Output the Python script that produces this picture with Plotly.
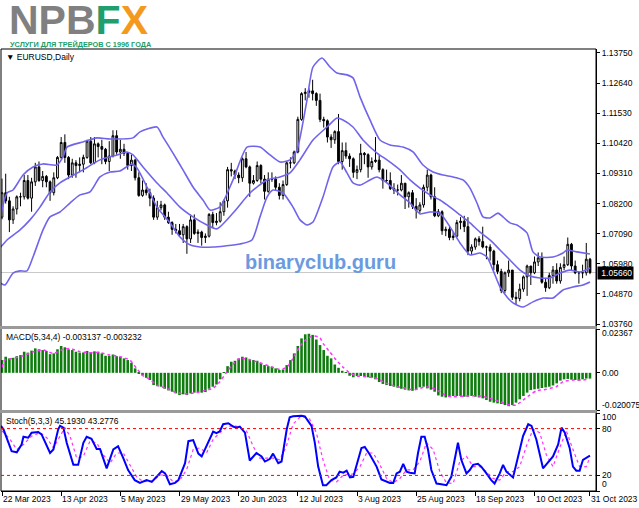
import plotly.graph_objects as go

# ---------------- data ----------------
tick_bars = [0, 16, 32, 48, 64, 80, 96, 112, 128, 144, 159]
tick_dates = ['22 Mar 2023', '13 Apr 2023', '5 May 2023', '29 May 2023', '20 Jun 2023',
              '12 Jul 2023', '3 Aug 2023', '25 Aug 2023', '18 Sep 2023', '10 Oct 2023', '31 Oct 2023']

price_ticks = [1.13750, 1.12640, 1.11530, 1.10420, 1.09310, 1.08200, 1.07090, 1.05980, 1.04870, 1.03760]
last_price = 1.05660

opens = [1.0770,1.0860,1.0830,1.0760,1.0800,1.0845,1.0845,1.0905,1.0840,1.0900,
         1.0955,1.0905,1.0920,1.0900,1.0860,1.0915,1.0990,1.1045,1.0990,1.0925,
         1.0970,1.0960,1.0965,1.0990,1.1050,1.0970,1.1040,1.1030,1.1020,1.0975,
         1.0995,1.1070,1.1010,1.1020,1.1005,1.0960,1.0980,1.0915,1.0850,1.0870,
         1.0860,1.0840,1.0770,1.0805,1.0815,1.0770,1.0750,1.0725,1.0720,1.0705,
         1.0735,1.0690,1.0760,1.0710,1.0715,1.0695,1.0700,1.0780,1.0750,1.0755,
         1.0790,1.0830,1.0945,1.0940,1.0925,1.0915,1.0985,1.0955,1.0895,1.0905,
         1.0960,1.0910,1.0865,1.0910,1.0910,1.0880,1.0850,1.0890,1.0970,1.0970,
         1.1010,1.1130,1.1225,1.1230,1.1235,1.1225,1.1200,1.1130,1.1125,1.1065,
         1.1055,1.1085,1.0975,1.1015,1.0995,1.0985,1.0935,1.0945,1.1005,1.1000,
         1.0955,1.0975,1.0980,1.0945,1.0905,1.0905,1.0875,1.0870,1.0870,1.0895,
         1.0845,1.0860,1.0810,1.0795,1.0815,1.0880,1.0925,1.0845,1.0775,1.0790,
         1.0720,1.0725,1.0695,1.0700,1.0750,1.0755,1.0735,1.0645,1.0660,1.0690,
         1.0680,1.0660,1.0660,1.0645,1.0595,1.0570,1.0500,1.0565,1.0575,1.0475,
         1.0470,1.0505,1.0550,1.0590,1.0565,1.0605,1.0620,1.0530,1.0510,1.0555,
         1.0575,1.0535,1.0585,1.0595,1.0670,1.0590,1.0565,1.0565,1.0565,1.0615]
highs = [1.0912,1.0930,1.0845,1.0810,1.0850,1.0860,1.0925,1.0925,1.0915,1.0970,
         1.0975,1.0940,1.0925,1.0905,1.0935,1.0995,1.1065,1.1075,1.0995,1.0985,
         1.0980,1.0990,1.1000,1.1055,1.1065,1.1065,1.1045,1.1055,1.1025,1.1050,
         1.1090,1.1090,1.1055,1.1040,1.1010,1.1000,1.0985,1.0935,1.0905,1.0895,
         1.0875,1.0850,1.0830,1.0830,1.0820,1.0790,1.0755,1.0745,1.0745,1.0745,
         1.0740,1.0780,1.0780,1.0725,1.0720,1.0710,1.0785,1.0790,1.0785,1.0825,
         1.0835,1.0955,1.0970,1.0945,1.0935,1.0990,1.1010,1.0960,1.0925,1.0975,
         1.0965,1.0925,1.0935,1.0935,1.0920,1.0895,1.0905,1.0975,1.0990,1.1015,
         1.1140,1.1230,1.1245,1.1245,1.1276,1.1230,1.1225,1.1140,1.1130,1.1075,
         1.1090,1.1150,1.1045,1.1045,1.1005,1.0990,1.0960,1.1040,1.1010,1.1005,
         1.0990,1.1065,1.1000,1.0950,1.0945,1.0935,1.0895,1.0890,1.0925,1.0895,
         1.0865,1.0870,1.0840,1.0825,1.0890,1.0945,1.0930,1.0880,1.0800,1.0795,
         1.0735,1.0735,1.0715,1.0760,1.0770,1.0775,1.0770,1.0670,1.0695,1.0700,
         1.0735,1.0665,1.0670,1.0650,1.0610,1.0580,1.0570,1.0610,1.0575,1.0495,
         1.0525,1.0555,1.0595,1.0590,1.0625,1.0640,1.0640,1.0545,1.0565,1.0590,
         1.0600,1.0600,1.0625,1.0695,1.0675,1.0610,1.0570,1.0595,1.0675,1.0620]
lows = [1.0762,1.0820,1.0715,1.0745,1.0780,1.0810,1.0835,1.0835,1.0790,1.0885,
        1.0900,1.0880,1.0880,1.0830,1.0850,1.0910,1.0985,1.0970,1.0910,1.0915,
        1.0915,1.0935,1.0935,1.0985,1.0965,1.0965,1.0990,1.0965,1.0965,1.0940,
        1.0990,1.1000,1.0985,1.0995,1.0945,1.0940,1.0905,1.0845,1.0845,1.0850,
        1.0810,1.0760,1.0760,1.0795,1.0760,1.0745,1.0705,1.0710,1.0700,1.0675,
        1.0635,1.0675,1.0705,1.0675,1.0665,1.0675,1.0695,1.0730,1.0740,1.0750,
        1.0775,1.0805,1.0920,1.0910,1.0895,1.0900,1.0950,1.0845,1.0890,1.0900,
        1.0895,1.0835,1.0860,1.0900,1.0870,1.0835,1.0835,1.0885,1.0950,1.0965,
        1.1005,1.1125,1.1200,1.1210,1.1200,1.1180,1.1120,1.1100,1.1045,1.1025,
        1.1040,1.0965,1.0945,1.0985,1.0955,1.0915,1.0910,1.0935,1.0965,1.0915,
        1.0945,1.0970,1.0935,1.0875,1.0895,1.0870,1.0855,1.0850,1.0865,1.0800,
        1.0805,1.0800,1.0765,1.0785,1.0805,1.0865,1.0835,1.0770,1.0770,1.0705,
        1.0700,1.0685,1.0685,1.0695,1.0725,1.0715,1.0630,1.0630,1.0650,1.0665,
        1.0655,1.0615,1.0610,1.0575,1.0560,1.0490,1.0490,1.0550,1.0465,1.0450,
        1.0460,1.0495,1.0480,1.0520,1.0560,1.0590,1.0525,1.0495,1.0505,1.0525,
        1.0525,1.0525,1.0575,1.0590,1.0575,1.0560,1.0525,1.0545,1.0555,1.0560]
closes = [1.0860,1.0830,1.0760,1.0800,1.0845,1.0845,1.0905,1.0840,1.0900,1.0955,
          1.0905,1.0920,1.0900,1.0860,1.0915,1.0990,1.1045,1.0990,1.0925,1.0970,
          1.0960,1.0965,1.0990,1.1050,1.0970,1.1040,1.1030,1.1020,1.0975,1.0995,
          1.1070,1.1010,1.1020,1.1005,1.0960,1.0980,1.0915,1.0850,1.0870,1.0860,
          1.0840,1.0770,1.0805,1.0815,1.0770,1.0750,1.0725,1.0720,1.0705,1.0735,
          1.0690,1.0760,1.0710,1.0715,1.0695,1.0700,1.0780,1.0750,1.0755,1.0790,
          1.0830,1.0945,1.0940,1.0925,1.0915,1.0985,1.0955,1.0895,1.0905,1.0960,
          1.0910,1.0865,1.0910,1.0910,1.0880,1.0850,1.0890,1.0970,1.0970,1.1010,
          1.1130,1.1225,1.1230,1.1235,1.1225,1.1200,1.1130,1.1125,1.1065,1.1055,
          1.1085,1.0975,1.1015,1.0995,1.0985,1.0935,1.0945,1.1005,1.1000,1.0955,
          1.0975,1.0980,1.0945,1.0905,1.0905,1.0875,1.0870,1.0870,1.0895,1.0845,
          1.0860,1.0810,1.0795,1.0815,1.0880,1.0925,1.0845,1.0775,1.0790,1.0720,
          1.0725,1.0695,1.0700,1.0750,1.0755,1.0735,1.0645,1.0660,1.0690,1.0680,
          1.0660,1.0660,1.0645,1.0595,1.0570,1.0500,1.0565,1.0575,1.0475,1.0470,
          1.0505,1.0550,1.0590,1.0565,1.0605,1.0620,1.0530,1.0510,1.0555,1.0575,
          1.0535,1.0585,1.0595,1.0670,1.0590,1.0565,1.0565,1.0565,1.0615,1.0566]
bars = list(range(len(closes)))

# Bollinger bands
bb_up_x = [-0.5,1.35,2.97,5.68,8.38,11.09,14.87,16.5,17.58,21.9,25.69,29.21,35.42,37.32,41.91,43.54,
           46.24,48.94,51.65,54.35,56.25,58.95,62.47,66.25,69.77,72.47,75.18,77.88,79.77,82.48,84.1,
           86.53,88.7,90.59,93.29,94.92,96.81,99.51,102.22,104.92,108.44,111.14,113.84,116.55,119.25,
           121.96,124.66,126.55,128.45,130.07,131.96,134.13,135.48,137.37,139.26,141.97,143.59,145.48,
           149.0,151.7,152.78,155.49,159.0]
bb_up_y = [1.0767,1.0859,1.0870,1.0925,1.0955,1.0966,1.0962,1.0992,1.1028,1.1047,1.1062,1.1058,1.1062,
           1.1084,1.1102,1.1065,1.1006,1.0944,1.0881,1.0833,1.0796,1.0808,1.0907,1.1028,1.1028,1.0999,
           1.0973,1.0981,1.1017,1.1202,1.1323,1.1356,1.1323,1.1301,1.1294,1.1283,1.1213,1.1128,1.1054,
           1.1036,1.1028,1.1010,1.0962,1.0936,1.0925,1.0918,1.0907,1.0877,1.0822,1.0771,1.0767,1.0785,
           1.0771,1.0749,1.0741,1.0712,1.0642,1.0623,1.0623,1.0638,1.0649,1.0642,1.0634]
bb_mid_x = [-0.5,1.35,4.87,7.57,10.28,12.98,15.68,18.39,21.9,26.5,31.1,33.8,35.42,38.13,41.91,44.62,
            48.13,51.65,55.44,58.14,62.47,67.06,71.66,75.18,77.88,80.58,84.1,87.89,90.59,92.21,94.92,
            97.62,101.41,104.11,107.63,110.33,113.03,115.74,118.44,121.15,123.85,126.55,129.26,131.96,
            134.67,137.37,140.08,142.78,145.48,148.19,150.89,153.6,156.3,159.0]
bb_mid_y = [1.0657,1.0686,1.0723,1.0760,1.0807,1.0863,1.0896,1.0918,1.0944,1.0981,1.0999,1.1010,1.0999,
            1.0955,1.0896,1.0859,1.0807,1.0771,1.0741,1.0727,1.0785,1.0859,1.0907,1.0918,1.0933,1.0981,
            1.1054,1.1102,1.1135,1.1128,1.1102,1.1054,1.1006,1.0981,1.0944,1.0907,1.0877,1.0852,1.0833,
            1.0807,1.0778,1.0749,1.0715,1.0686,1.0649,1.0612,1.0575,1.0553,1.0546,1.0546,1.0564,1.0575,
            1.0568,1.0583]
bb_lo_x = [-0.5,0.81,2.97,4.87,6.76,8.38,11.09,12.98,15.68,18.39,21.09,23.8,26.5,29.21,31.91,35.15,
           36.51,39.21,41.91,45.43,48.13,50.84,53.54,57.06,60.3,64.36,67.6,69.77,71.66,73.28,75.99,
           78.69,80.58,82.48,84.1,86.8,89.51,91.4,93.29,94.92,96.81,99.51,101.41,104.11,107.63,110.33,
           113.03,115.74,118.44,121.15,123.85,126.55,129.26,131.15,132.78,134.67,136.56,138.18,140.89,
           143.59,146.3,149.0,151.7,154.41,157.11,159.0]
bb_lo_y = [1.0528,1.0520,1.0564,1.0572,1.0572,1.0623,1.0723,1.0771,1.0789,1.0822,1.0852,1.0863,1.0918,
           1.0936,1.0940,1.0966,1.0951,1.0881,1.0807,1.0749,1.0697,1.0668,1.0660,1.0660,1.0664,1.0671,
           1.0686,1.0771,1.0844,1.0870,1.0859,1.0807,1.0760,1.0741,1.0752,1.0844,1.0955,1.0973,1.0933,
           1.0896,1.0888,1.0907,1.0918,1.0896,1.0852,1.0822,1.0782,1.0789,1.0785,1.0734,1.0675,1.0631,
           1.0638,1.0623,1.0575,1.0513,1.0476,1.0454,1.0439,1.0458,1.0472,1.0472,1.0502,1.0513,1.0520,
           1.0531]

# MACD(5,34,4) histogram and signal
macd_hist = [0.0069,0.0087,0.0078,0.0081,0.0090,0.0096,0.0114,0.0109,0.0120,0.0132,
             0.0127,0.0123,0.0118,0.0101,0.0105,0.0127,0.0145,0.0138,0.0127,0.0123,
             0.0114,0.0109,0.0110,0.0118,0.0112,0.0116,0.0114,0.0105,0.0092,0.0092,
             0.0099,0.0090,0.0087,0.0078,0.0069,0.0054,0.0024,-0.0003,-0.0014,-0.0027,
             -0.0039,-0.0066,-0.0072,-0.0075,-0.0086,-0.0095,-0.0102,-0.0111,-0.0120,-0.0116,
             -0.0120,-0.0111,-0.0107,-0.0105,-0.0107,-0.0104,-0.0086,-0.0075,-0.0063,-0.0035,
             0.0002,0.0036,0.0060,0.0065,0.0078,0.0087,0.0083,0.0072,0.0069,0.0065,
             0.0054,0.0042,0.0036,0.0033,0.0024,0.0015,0.0018,0.0042,0.0069,0.0105,
             0.0145,0.0186,0.0208,0.0211,0.0205,0.0180,0.0150,0.0123,0.0092,0.0078,
             0.0045,0.0027,0.0011,0.0002,-0.0016,-0.0024,-0.0017,-0.0017,-0.0019,-0.0024,
             -0.0026,-0.0035,-0.0050,-0.0060,-0.0066,-0.0071,-0.0075,-0.0080,-0.0086,-0.0091,
             -0.0095,-0.0097,-0.0089,-0.0078,-0.0075,-0.0084,-0.0091,-0.0102,-0.0122,-0.0129,
             -0.0133,-0.0129,-0.0125,-0.0125,-0.0125,-0.0129,-0.0129,-0.0125,-0.0129,-0.0133,
             -0.0138,-0.0147,-0.0156,-0.0161,-0.0165,-0.0168,-0.0174,-0.0180,-0.0174,-0.0161,
             -0.0143,-0.0125,-0.0107,-0.0093,-0.0089,-0.0086,-0.0082,-0.0079,-0.0075,-0.0068,
             -0.0057,-0.0042,-0.0035,-0.0033,-0.0037,-0.0039,-0.0042,-0.0035,-0.0031,-0.0031]
macd_sig_x = [0,0.8,3.1,5.8,8.5,11.2,13.9,16.6,18.4,21.1,23.8,26.5,29.2,31.9,34.6,36.4,38.2,40.0,
              41.8,44.5,47.2,49.9,52.6,55.3,57.1,58.9,60.7,62.5,64.3,67.0,69.7,72.4,75.1,77.0,78.7,
              80.5,82.3,84.1,85.9,86.8,88.6,90.4,92.3,94.0,95.9,98.6,101.3,104.0,106.7,109.4,111.2,
              113.0,114.8,116.6,118.4,120.2,122.0,125.6,129.2,131.9,134.6,137.3,139.1,140.9,142.7,
              144.5,147.2,149.9,151.7,154.4,157.1,159.0]
macd_sig_y = [0.0030,0.0069,0.0078,0.0092,0.0114,0.0123,0.0105,0.0127,0.0132,0.0114,0.0109,0.0109,
              0.0096,0.0087,0.0069,0.0024,-0.0017,-0.0035,-0.0066,-0.0084,-0.0107,-0.0114,-0.0107,
              -0.0093,-0.0084,-0.0048,0.0002,0.0047,0.0078,0.0072,0.0054,0.0036,0.0018,0.0029,0.0078,
              0.0141,0.0181,0.0199,0.0192,0.0159,0.0114,0.0069,0.0029,0.0000,-0.0017,-0.0021,-0.0030,
              -0.0057,-0.0075,-0.0084,-0.0093,-0.0084,-0.0075,-0.0084,-0.0102,-0.0125,-0.0129,-0.0125,
              -0.0125,-0.0138,-0.0156,-0.0174,-0.0174,-0.0147,-0.0120,-0.0097,-0.0089,-0.0075,-0.0048,
              -0.0039,-0.0039,-0.0032]

# Stochastic(5,3,3)
stoch_main_x = [-0.3,0.4,2.6,4.0,5.3,5.8,7.1,8.0,9.8,10.7,13.0,13.9,15.2,15.7,16.6,17.5,19.3,20.6,
                22.0,22.9,24.2,25.6,26.5,28.3,30.1,31.4,32.8,34.1,35.9,37.3,39.1,40.5,41.8,43.2,44.1,
                45.4,46.8,47.7,49.5,50.4,51.7,53.1,54.0,55.8,57.1,58.0,58.9,59.8,61.2,62.5,63.4,64.3,
                65.7,67.0,68.8,70.2,71.1,72.4,73.3,74.7,75.6,77.0,77.8,78.7,81.0,81.9,83.7,84.6,85.5,
                86.8,87.7,89.1,90.4,91.3,92.3,93.2,94.1,95.0,96.3,97.2,98.1,99.5,101.3,102.6,104.9,
                105.8,106.7,107.6,108.5,109.4,110.3,111.6,112.5,113.4,114.3,115.2,116.1,117.5,118.8,
                120.2,121.5,123.3,124.2,125.6,126.5,127.4,128.7,129.6,131.0,132.3,133.2,134.6,135.5,
                136.4,138.2,140.0,140.9,142.3,143.2,144.5,146.3,149.0,150.4,151.3,152.2,153.5,154.4,
                155.3,156.2,157.1,158.5,159.0]
stoch_main_y = [83.5,79.1,51.0,49.6,59.6,69.6,68.3,74.8,75.7,72.6,48.7,53.2,79.1,83.5,81.3,61.8,33.5,
                33.5,61.8,69.6,67.0,53.9,53.9,29.1,53.2,57.4,42.2,26.9,13.9,10.4,13.9,11.7,18.2,25.6,
                22.6,8.7,10.4,13.9,35.7,63.9,65.2,47.9,44.4,62.0,76.1,74.2,76.6,85.6,86.9,82.6,81.3,
                82.6,74.8,39.1,48.7,44.4,37.8,40.9,47.9,35.7,37.8,79.1,94.4,95.7,96.5,95.7,83.5,61.8,
                31.3,7.4,7.4,13.9,17.4,24.8,23.5,26.1,17.4,18.2,42.2,55.2,56.5,46.6,31.3,14.8,10.4,
                10.4,22.6,24.8,34.8,24.8,23.5,22.6,48.7,69.6,69.6,53.2,26.9,9.6,8.7,7.4,18.2,61.8,40.0,
                22.6,26.9,33.5,34.8,31.3,22.6,13.9,9.6,22.6,33.5,24.8,17.4,53.2,70.4,85.6,83.5,66.1,
                29.1,44.4,59.6,81.3,74.8,55.2,31.3,26.1,26.1,40.0,44.4,45.2]
stoch_sig_x = [0,2.2,4.0,5.8,8.0,10.3,12.1,13.9,15.7,17.0,18.4,20.2,22.0,23.8,25.6,27.4,29.2,31.0,
               32.8,34.6,36.4,38.2,40.9,42.7,44.5,46.3,48.1,49.9,51.7,53.5,55.3,57.1,58.9,60.7,62.5,
               64.3,66.1,67.9,69.7,71.5,73.3,75.1,76.9,78.7,80.5,82.3,83.2,85.0,86.8,88.6,90.5,92.3,
               95.0,96.8,98.6,100.4,102.2,104.0,105.8,107.6,109.4,111.2,113.0,114.8,116.6,118.4,
               120.2,122.0,123.8,125.6,127.4,129.2,131.0,132.8,134.6,136.4,138.2,140.0,141.8,143.6,
               145.4,147.2,149.0,150.8,152.6,154.4,156.2,158.0,159.0]
stoch_sig_y = [77.0,66.1,53.1,59.6,70.4,74.8,68.3,55.2,70.4,81.3,70.4,42.2,44.4,63.9,61.8,46.5,35.7,
               48.7,48.7,33.5,18.3,11.8,13.1,20.5,20.5,11.8,13.9,27.0,53.1,55.2,48.7,66.1,74.8,81.3,
               84.4,81.3,77.0,57.4,42.2,42.2,42.2,40.0,57.4,85.7,94.3,94.3,92.2,74.8,40.0,13.9,11.8,
               20.5,21.8,31.3,48.7,48.7,33.5,16.1,10.5,16.1,27.0,27.0,37.9,61.8,53.1,24.8,10.5,9.6,
               37.9,44.4,31.3,31.3,24.8,16.1,13.9,24.8,24.8,31.3,57.4,79.1,74.8,46.5,31.3,55.2,77.0,
               53.1,31.3,31.3,43.3]

macd_label = 'MACD(5,34,4) -0.003137 -0.003232'
stoch_label = 'Stoch(5,3,3) 45.1930 43.2776'
symbol_label = '\u25bc EURUSD,Daily'
macd_axis = [0.02367, 0.0, -0.020075]
macd_axis_text = ['0.02367', '0.00', '-0.020075']
stoch_axis = [100, 80, 20, 0]
stoch_levels = [80, 20]

# ---------------- styling / layout ----------------
FONT = 'Liberation Sans'
BAND = 'rgb(112,100,236)'
W, H = 639, 508
L, R, T, B = 1, 43, 49, 17
PH = H - T - B  # 442


def py(p):
    return (H - B - p) / PH


def px(p):
    return (p - L) / (W - L - R)


x_range = [-0.27, 160.63]

fig = go.Figure()

fig.add_trace(go.Candlestick(
    x=bars, open=opens, high=highs, low=lows, close=closes,
    xaxis='x', yaxis='y', whiskerwidth=0, showlegend=False, hoverinfo='skip',
    increasing=dict(line=dict(color='black', width=1), fillcolor='white'),
    decreasing=dict(line=dict(color='black', width=1), fillcolor='black')))

for bx, by in [(bb_up_x, bb_up_y), (bb_mid_x, bb_mid_y), (bb_lo_x, bb_lo_y)]:
    fig.add_trace(go.Scatter(x=bx, y=by, mode='lines', xaxis='x', yaxis='y',
                             line=dict(color=BAND, width=1.6, shape='spline', smoothing=0.6),
                             showlegend=False, hoverinfo='skip'))

fig.add_trace(go.Bar(x=bars, y=macd_hist, xaxis='x2', yaxis='y2',
                     marker=dict(color='#0e7d0e', line=dict(width=0)),
                     showlegend=False, hoverinfo='skip'))
fig.add_trace(go.Scatter(x=macd_sig_x, y=macd_sig_y, mode='lines', xaxis='x2', yaxis='y2',
                         line=dict(color='#ff33ff', width=1.5, dash='dot', shape='spline', smoothing=0.5),
                         showlegend=False, hoverinfo='skip'))

fig.add_trace(go.Scatter(x=stoch_sig_x, y=stoch_sig_y, mode='lines', xaxis='x3', yaxis='y3',
                         line=dict(color='#ff33ff', width=1.2, dash='dot'),
                         showlegend=False, hoverinfo='skip'))
fig.add_trace(go.Scatter(x=stoch_main_x, y=stoch_main_y, mode='lines', xaxis='x3', yaxis='y3',
                         line=dict(color='#0000ff', width=2),
                         showlegend=False, hoverinfo='skip'))

dom_main = [py(326), 1.0]
dom_macd = [py(410), py(329)]
dom_stoch = [0.0, py(413)]

axis_common = dict(showgrid=False, zeroline=False, automargin=False)
tickfont = dict(family=FONT, size=8.5, color='black')

fig.update_layout(
    width=W, height=H, margin=dict(l=L, r=R, t=T, b=B),
    paper_bgcolor='white', plot_bgcolor='white',
    bargap=0.3, boxgap=0.3,
    font=dict(family=FONT, size=8.5, color='black'),
    xaxis=dict(domain=[0, 1], anchor='y', range=x_range, showticklabels=False,
               rangeslider=dict(visible=False), **axis_common),
    xaxis2=dict(domain=[0, 1], anchor='y2', range=x_range, matches='x', showticklabels=False,
                **axis_common),
    xaxis3=dict(domain=[0, 1], anchor='y3', range=x_range, matches='x',
                tickvals=tick_bars, showticklabels=False, ticks='outside', ticklen=4,
                tickcolor='black', showline=True, linecolor='black', linewidth=1, **axis_common),
    yaxis=dict(domain=dom_main, anchor='x', range=[1.03691, 1.13893], side='right',
               tickvals=price_ticks, ticktext=['%.5f' % v for v in price_ticks],
               ticks='outside', ticklen=3, tickcolor='black', tickfont=tickfont,
               showline=True, linecolor='black', linewidth=1, **axis_common),
    yaxis2=dict(domain=dom_macd, anchor='x2', range=[-0.020075, 0.02367], side='right',
                tickvals=macd_axis, showticklabels=False, ticks='outside', ticklen=3,
                tickcolor='black', showline=True, linecolor='black', linewidth=1, **axis_common),
    yaxis3=dict(domain=dom_stoch, anchor='x3', range=[0, 100], side='right',
                tickvals=stoch_axis, showticklabels=False, ticks='outside', ticklen=3,
                tickcolor='black', showline=True, linecolor='black', linewidth=1, **axis_common),
)

shapes = []
# frame
shapes.append(dict(type='rect', xref='paper', yref='paper', x0=0, x1=1, y0=0, y1=1,
                   line=dict(color='black', width=1), fillcolor='rgba(0,0,0,0)'))
# panel separators
for a, b in [(326, 329), (410, 413)]:
    shapes.append(dict(type='rect', xref='paper', yref='paper', x0=-0.01, x1=1.0, y0=py(b), y1=py(a),
                       line=dict(width=0), fillcolor='#9a9a9a'))
# last price line
shapes.append(dict(type='line', xref='paper', yref='y', x0=0, x1=1, y0=last_price, y1=last_price,
                   line=dict(color='#c8c8c8', width=1), layer='below'))
# stochastic levels
for lv in stoch_levels:
    shapes.append(dict(type='line', xref='paper', yref='y3', x0=0, x1=1, y0=lv, y1=lv,
                       line=dict(color='#ff0000', width=1, dash='dot')))
fig.update_layout(shapes=shapes)

ann = []
ann.append(dict(xref='paper', yref='paper', x=px(7), y=py(20), xanchor='left', yanchor='middle',
                showarrow=False,
                text="<b><span style='color:#808080'>NPB</span><span style='color:#1f9e6e'>F</span>"
                     "<span style='color:#f39a1e'>X</span></b>",
                font=dict(family=FONT, size=41)))
ann.append(dict(xref='paper', yref='paper', x=px(8), y=py(44.5), xanchor='left', yanchor='middle',
                showarrow=False, text='<b>УСЛУГИ ДЛЯ ТРЕЙДЕРОВ С 1996 ГОДА</b>',
                font=dict(family=FONT, size=7.3, color='#1a9f6a')))
ann.append(dict(xref='paper', yref='paper', x=px(4), y=py(57), xanchor='left', yanchor='middle',
                showarrow=False, text=symbol_label, font=dict(family=FONT, size=8.5, color='black')))
ann.append(dict(xref='paper', yref='paper', x=px(4), y=py(337), xanchor='left', yanchor='middle',
                showarrow=False, text=macd_label, font=dict(family=FONT, size=8.5, color='black')))
ann.append(dict(xref='paper', yref='paper', x=px(4), y=py(421), xanchor='left', yanchor='middle',
                showarrow=False, text=stoch_label, font=dict(family=FONT, size=8.5, color='black')))
ann.append(dict(xref='paper', yref='paper', x=px(320), y=py(262), xanchor='center', yanchor='middle',
                showarrow=False, text='<b>binaryclub.guru</b>',
                font=dict(family=FONT, size=20, color='#6b9ae0')))
# current price box
ann.append(dict(xref='paper', yref='y', x=1, y=last_price, xanchor='left', yanchor='middle',
                xshift=1, showarrow=False, text=' %.5f' % last_price, bgcolor='black', borderpad=1,
                font=dict(family=FONT, size=8.5, color='white')))
# sub-window scale labels
for v, t, sh in zip(macd_axis, macd_axis_text, [-4, 0, 5]):
    ann.append(dict(xref='paper', yref='y2', x=1, y=v, xanchor='left', yanchor='middle', xshift=4,
                    yshift=sh, showarrow=False, text=t, font=dict(family=FONT, size=8.5, color='black')))
for v, sh in zip(stoch_axis, [-4, 0, 0, 7]):
    ann.append(dict(xref='paper', yref='y3', x=1, y=v, xanchor='left', yanchor='middle', xshift=4,
                    yshift=sh, showarrow=False, text=str(v), font=dict(family=FONT, size=8.5, color='black')))
# date labels, left-aligned at their tick as in the terminal
for bx, t in zip(tick_bars, tick_dates):
    ann.append(dict(xref='x3', yref='paper', x=bx, y=py(499), xanchor='left', yanchor='middle',
                    xshift=-1, showarrow=False, text=t, font=dict(family=FONT, size=8.5, color='black')))
fig.update_layout(annotations=ann)

fig.write_html('out.html', config={'displayModeBar': False},
               post_script="document.body.style.margin='0';document.body.style.overflow='hidden';")
